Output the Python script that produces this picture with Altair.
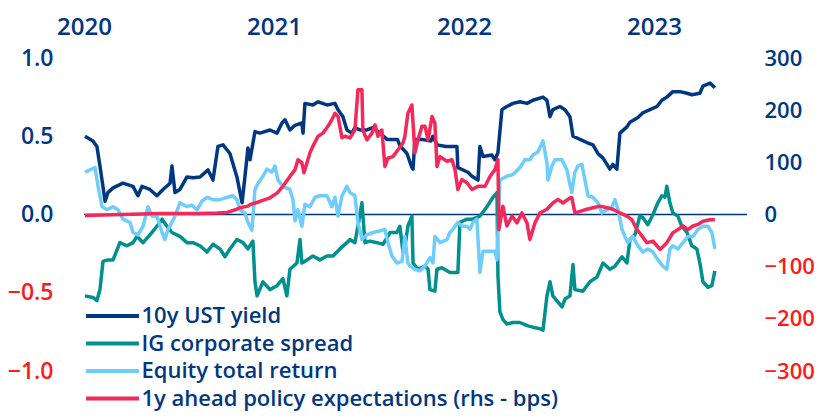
import altair as alt
import pandas as pd

START_YEAR = 2020
SERIES = ["10y UST yield", "IG corporate spread", "Equity total return",
          "1y ahead policy expectations (rhs - bps)"]
COLORS = ["#003781", "#00908d", "#6fcdfe", "#f5285a"]
YEAR_TICKS = [2020, 2021, 2022, 2023]
LEFT_TICKS = [-1.0, -0.5, 0.0, 0.5, 1.0]
RIGHT_TICKS = [-300, -200, -100, 0, 100, 200, 300]

# (years since Jan 2020, value)
ust = [(0.005,0.50),(0.047,0.47),(0.068,0.435),(0.084,0.31),(0.111,0.085),(0.126,0.14),(0.153,0.17),
       (0.205,0.20),(0.258,0.18),(0.284,0.12),(0.305,0.18),(0.347,0.16),(0.384,0.12),(0.416,0.16),
       (0.453,0.20),(0.463,0.31),(0.479,0.14),(0.505,0.16),(0.542,0.24),(0.574,0.235),(0.611,0.24),
       (0.653,0.285),(0.679,0.22),(0.705,0.435),(0.732,0.445),(0.768,0.39),(0.805,0.24),(0.832,0.075),
       (0.847,0.24),(0.863,0.425),(0.874,0.35),(0.900,0.53),(0.926,0.52),(0.979,0.54),(1.016,0.52),
       (1.042,0.585),(1.058,0.605),(1.084,0.54),(1.111,0.57),(1.147,0.585),(1.153,0.52),(1.163,0.71),
       (1.205,0.70),(1.232,0.72),(1.279,0.70),(1.321,0.71),(1.337,0.67),(1.363,0.625),(1.384,0.54),
       (1.411,0.52),(1.426,0.555),(1.453,0.54),(1.489,0.54),(1.521,0.555),(1.558,0.52),(1.595,0.48),
       (1.650,0.48),(1.663,0.44),(1.700,0.39),(1.726,0.30),(1.732,0.29),(1.742,0.48),(1.779,0.48),
       (1.826,0.47),(1.837,0.50),(1.858,0.445),(1.905,0.435),(1.963,0.435),(1.968,0.30),(2.021,0.27),
       (2.042,0.245),(2.074,0.22),(2.084,0.435),(2.100,0.37),(2.147,0.38),(2.163,0.35),(2.179,0.395),
       (2.200,0.67),(2.226,0.69),(2.258,0.71),(2.295,0.72),(2.332,0.71),(2.363,0.73),(2.416,0.75),
       (2.437,0.73),(2.453,0.625),(2.468,0.67),(2.505,0.69),(2.532,0.67),(2.558,0.625),(2.574,0.50),
       (2.611,0.48),(2.647,0.46),(2.679,0.445),(2.705,0.39),(2.732,0.36),(2.753,0.32),(2.768,0.29),
       (2.784,0.32),(2.805,0.29),(2.821,0.52),(2.858,0.56),(2.874,0.59),(2.916,0.62),(2.942,0.65),
       (2.979,0.67),(3.016,0.69),(3.042,0.73),(3.068,0.75),(3.100,0.785),(3.137,0.785),(3.174,0.775),
       (3.200,0.765),(3.242,0.775),(3.258,0.82),(3.295,0.84),(3.321,0.81)]

ig = [(0.005,-0.52),(0.047,-0.53),(0.068,-0.55),(0.084,-0.48),(0.100,-0.30),(0.126,-0.29),(0.153,-0.29),
      (0.189,-0.18),(0.226,-0.20),(0.258,-0.18),(0.279,-0.14),(0.311,-0.18),(0.347,-0.13),(0.384,-0.075),
      (0.411,-0.03),(0.437,-0.075),(0.463,-0.115),(0.505,-0.14),(0.542,-0.18),(0.574,-0.18),(0.611,-0.20),
      (0.647,-0.24),(0.679,-0.19),(0.716,-0.22),(0.742,-0.27),(0.768,-0.22),(0.805,-0.16),(0.837,-0.18),
      (0.863,-0.22),(0.889,-0.17),(0.900,-0.43),(0.911,-0.52),(0.942,-0.43),(0.979,-0.48),(1.016,-0.455),
      (1.047,-0.41),(1.068,-0.52),(1.084,-0.35),(1.121,-0.31),(1.137,-0.16),(1.147,-0.31),(1.174,-0.29),
      (1.205,-0.265),(1.242,-0.29),(1.279,-0.265),(1.311,-0.265),(1.347,-0.22),(1.384,-0.18),(1.400,-0.16),
      (1.426,-0.18),(1.442,-0.075),(1.463,0.075),(1.479,-0.18),(1.505,-0.17),(1.542,-0.18),(1.574,-0.19),
      (1.611,-0.115),(1.647,-0.115),(1.663,-0.075),(1.679,-0.24),(1.690,-0.20),(1.705,-0.075),(1.726,-0.01),
      (1.732,-0.31),(1.758,-0.35),(1.795,-0.33),(1.811,-0.35),(1.821,-0.48),(1.847,-0.49),(1.858,-0.35),
      (1.884,-0.34),(1.926,-0.37),(1.968,-0.37),(1.979,-0.05),(2.016,-0.03),(2.047,-0.03),(2.084,-0.01),
      (2.121,0.05),(2.153,0.11),(2.174,0.14),(2.179,-0.39),(2.189,-0.62),(2.205,-0.67),(2.226,-0.70),
      (2.258,-0.69),(2.295,-0.69),(2.332,-0.71),(2.363,-0.72),(2.400,-0.73),(2.416,-0.74),(2.437,-0.52),
      (2.453,-0.43),(2.468,-0.52),(2.495,-0.56),(2.516,-0.59),(2.532,-0.54),(2.558,-0.52),(2.574,-0.32),
      (2.584,-0.48),(2.626,-0.49),(2.663,-0.43),(2.700,-0.40),(2.732,-0.31),(2.768,-0.35),(2.795,-0.33),
      (2.832,-0.27),(2.858,-0.31),(2.874,-0.16),(2.900,-0.13),(2.926,-0.01),(2.942,-0.02),(2.968,-0.065),
      (2.995,0.0),(3.021,0.075),(3.042,0.12),(3.058,0.11),(3.068,0.18),(3.084,0.075),(3.100,0.01),
      (3.126,-0.01),(3.147,-0.075),(3.174,-0.115),(3.200,-0.20),(3.226,-0.22),(3.242,-0.31),(3.258,-0.43),
      (3.284,-0.465),(3.305,-0.455),(3.321,-0.36)]

eq = [(0.005,0.27),(0.032,0.285),(0.058,0.30),(0.074,0.18),(0.095,0.05),(0.121,0.03),(0.153,0.05),
      (0.179,0.03),(0.205,-0.03),(0.242,-0.05),(0.258,-0.115),(0.284,-0.13),(0.311,-0.075),(0.337,0.05),
      (0.358,-0.01),(0.384,-0.01),(0.411,-0.115),(0.426,-0.16),(0.442,-0.095),(0.463,-0.05),(0.479,-0.01),
      (0.505,0.075),(0.542,0.05),(0.568,0.06),(0.595,0.03),(0.621,0.085),(0.647,0.11),(0.679,0.095),
      (0.716,0.095),(0.753,0.11),(0.784,0.12),(0.805,0.095),(0.821,0.03),(0.847,0.01),(0.863,-0.05),
      (0.884,-0.10),(0.900,0.16),(0.916,0.20),(0.942,0.245),(0.963,0.29),(0.989,0.27),(1.005,0.31),
      (1.021,0.22),(1.047,0.18),(1.084,0.16),(1.100,0.095),(1.111,-0.04),(1.126,0.03),(1.147,-0.075),
      (1.163,0.065),(1.189,0.05),(1.216,0.11),(1.242,0.12),(1.279,0.12),(1.305,0.05),(1.321,0.11),
      (1.337,-0.01),(1.358,0.12),(1.384,0.18),(1.400,0.14),(1.426,0.12),(1.442,-0.05),(1.463,-0.16),
      (1.489,-0.13),(1.521,-0.115),(1.558,-0.105),(1.584,-0.095),(1.600,-0.18),(1.621,-0.265),(1.647,-0.31),
      (1.674,-0.30),(1.689,-0.14),(1.705,-0.31),(1.716,-0.33),(1.742,-0.35),(1.768,-0.36),(1.795,-0.33),
      (1.821,-0.275),(1.837,-0.31),(1.847,-0.14),(1.874,-0.18),(1.911,-0.16),(1.926,-0.115),(1.942,-0.095),
      (1.968,-0.05),(1.989,-0.075),(2.016,-0.075),(2.032,-0.095),(2.047,-0.05),(2.068,-0.03),(2.084,-0.37),
      (2.100,-0.235),(2.137,-0.235),(2.163,-0.235),(2.174,-0.29),(2.189,0.22),(2.226,0.245),(2.258,0.255),
      (2.295,0.30),(2.321,0.35),(2.347,0.35),(2.363,0.38),(2.389,0.40),(2.416,0.47),(2.437,0.33),
      (2.442,0.22),(2.463,0.31),(2.479,0.35),(2.516,0.35),(2.542,0.285),(2.558,0.19),(2.568,0.14),
      (2.584,0.27),(2.600,0.31),(2.621,0.32),(2.637,0.22),(2.653,0.12),(2.679,0.11),(2.705,0.075),
      (2.726,0.01),(2.753,0.03),(2.779,0.05),(2.795,0.095),(2.811,0.03),(2.832,-0.095),(2.847,-0.14),
      (2.863,-0.18),(2.889,-0.14),(2.916,-0.20),(2.942,-0.24),(2.968,-0.22),(2.995,-0.24),(3.021,-0.29),
      (3.047,-0.33),(3.068,-0.35),(3.084,-0.22),(3.100,-0.20),(3.126,-0.22),(3.153,-0.18),(3.179,-0.14),
      (3.205,-0.14),(3.232,-0.095),(3.258,-0.075),(3.284,-0.075),(3.305,-0.115),(3.321,-0.22)]

# policy expectations in bps (right axis)
pol = [(0.005,-2),(0.1,-1),(0.2,0),(0.3,1),(0.4,2),(0.5,2),(0.6,2),(0.7,3),(0.753,4),(0.805,10),
       (0.821,13),(0.863,16),(0.874,19),(0.926,25),(0.979,32),(1.016,41),(1.047,54),(1.084,73),
       (1.111,86),(1.126,105),(1.147,99),(1.158,80),(1.189,118),(1.205,131),(1.232,150),(1.258,156),
       (1.284,169),(1.305,182),(1.321,194),(1.337,188),(1.358,147),(1.374,150),(1.400,147),(1.426,162),
       (1.442,239),(1.463,239),(1.468,162),(1.489,143),(1.516,156),(1.532,172),(1.547,150),(1.568,162),
       (1.584,92),(1.600,108),(1.626,111),(1.653,124),(1.679,137),(1.689,150),(1.705,194),(1.726,210),
       (1.742,118),(1.758,143),(1.779,169),(1.795,169),(1.811,143),(1.832,188),(1.847,175),(1.858,92),
       (1.874,111),(1.911,102),(1.937,105),(1.953,86),(1.968,48),(1.989,67),(2.016,61),(2.042,48),
       (2.074,54),(2.111,54),(2.137,73),(2.163,86),(2.179,105),(2.184,-29),(2.205,16),(2.226,-22),
       (2.253,-3),(2.279,-16),(2.305,3),(2.332,-16),(2.347,-48),(2.374,-16),(2.400,3),(2.437,10),
       (2.468,22),(2.495,29),(2.521,22),(2.558,32),(2.568,32),(2.584,3),(2.611,6),(2.647,10),
       (2.679,13),(2.716,16),(2.753,13),(2.784,10),(2.821,3),(2.858,-3),(2.884,-10),(2.911,-29),
       (2.937,-41),(2.963,-54),(2.995,-51),(3.032,-67),(3.068,-54),(3.100,-35),(3.126,-29),(3.153,-22),
       (3.179,-29),(3.205,-22),(3.232,-19),(3.258,-13),(3.295,-10),(3.321,-10)]

NAVY = "#003781"
RED = "#ff1a1a"
FONT = "Open Sans"
FW = 600


def frame(points, name):
    return pd.DataFrame({"year": [START_YEAR + t for t, _ in points],
                         "value": [v for _, v in points],
                         "series": name})


color_scale = alt.Scale(domain=SERIES, range=COLORS)

x_enc = alt.X("year:Q",
              scale=alt.Scale(domain=[2020, 2023.49], nice=False, zero=False),
              axis=alt.Axis(orient="top", values=YEAR_TICKS, format="d", title=None,
                            domain=False, ticks=False, tickSize=0, grid=False, labelFlush=False,
                            labelFontSize=24, labelColor=NAVY, labelFont=FONT,
                            labelFontWeight=FW, labelPadding=19))

left_axis = alt.Axis(orient="left", values=LEFT_TICKS, format=".1f", title=None,
                     domain=False, ticks=False, tickSize=0, grid=False,
                     labelFontSize=23, labelFont=FONT, labelFontWeight=FW, labelPadding=31,
                     labelColor=alt.expr(f"datum.value < 0 ? '{RED}' : '{NAVY}'"))
y_left = alt.Y("value:Q", scale=alt.Scale(domain=[-1, 1], nice=False), axis=left_axis)

right_axis = alt.Axis(orient="right", values=RIGHT_TICKS, format="d", title=None,
                      domain=False, ticks=False, tickSize=0, grid=False,
                      labelFontSize=22, labelFont=FONT, labelFontWeight=FW, labelPadding=17,
                      labelColor=alt.expr(f"datum.value < 0 ? '{RED}' : '{NAVY}'"))
y_right = alt.Y("value:Q", scale=alt.Scale(domain=[-300, 300], nice=False), axis=right_axis)

color_enc = alt.Color("series:N", scale=color_scale,
                      legend=alt.Legend(title=None, orient="none", legendX=0, legendY=247,
                                        direction="vertical",
                                        labelFontSize=22, labelFont=FONT, labelFontWeight=FW,
                                        labelColor=NAVY, symbolType="M-5,0H5", symbolSize=112,
                                        symbolStrokeWidth=4, symbolOffset=17.5, labelOffset=18,
                                        clipHeight=22, rowPadding=5.5, padding=0,
                                        labelLimit=700))

zero_rule = alt.Chart(pd.DataFrame({"value": [0.0]})).mark_rule(
    color=NAVY, strokeWidth=1.5).encode(y=y_left)


def line(points, name):
    return alt.Chart(frame(points, name)).mark_line(strokeWidth=3.5, strokeJoin="round").encode(
        x=x_enc, y=y_left, color=color_enc)


left = alt.layer(zero_rule, line(ust, SERIES[0]), line(ig, SERIES[1]), line(eq, SERIES[2]))
right = alt.Chart(frame(pol, SERIES[3])).mark_line(strokeWidth=3.5, strokeJoin="round").encode(
    x=x_enc, y=y_right, color=color_enc)

chart = alt.layer(left, right).resolve_scale(y="independent").properties(
    width=663, height=313,
    padding={"left": 76, "top": 50, "right": 67, "bottom": 40},
    autosize=alt.AutoSizeParams(type="none"),
).configure_view(stroke=None)

chart.save("out.html", embed_options={"renderer": "svg", "actions": False})
